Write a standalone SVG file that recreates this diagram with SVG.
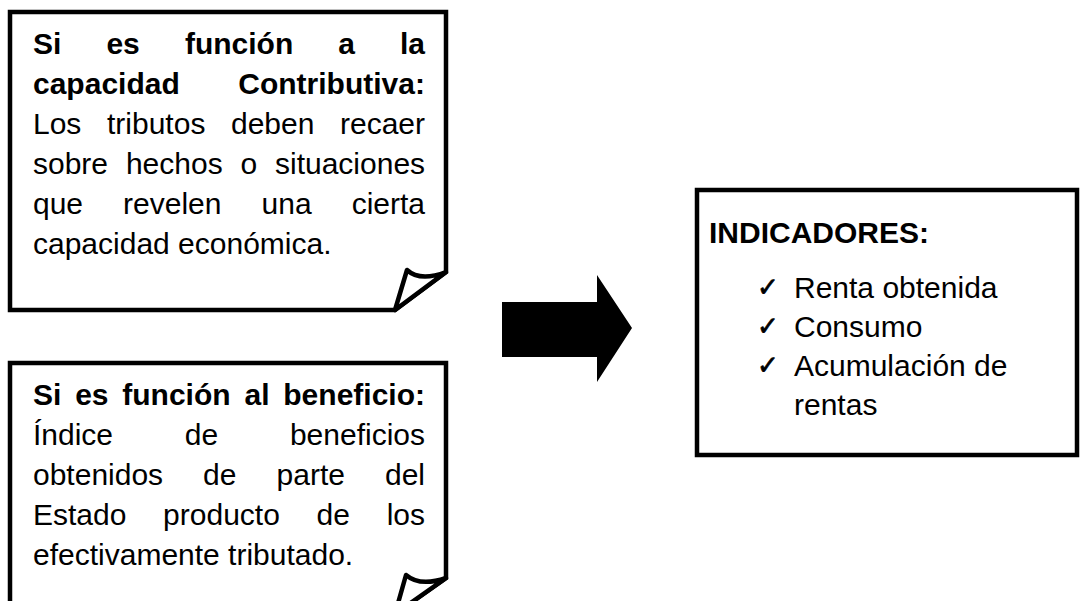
<svg xmlns="http://www.w3.org/2000/svg" width="1080" height="601" viewBox="0 0 1080 601">
<style>
.box{fill:#fff;stroke:#000;stroke-width:4.5;stroke-linejoin:miter}
.curl{fill:#fff;stroke:#000;stroke-width:4.5;stroke-linejoin:round}
text{font-family:"Liberation Sans",Arial,sans-serif;font-size:30px;fill:#000}
.b{font-weight:bold}
.chk{font-family:"DejaVu Sans",sans-serif;font-size:26px;stroke:#000;stroke-width:0.8}
</style>
<rect width="1080" height="601" fill="#fff"/>
<g id="node-capacidad">
<path class="box" d="M10,12 H446 V272 L395,310 H10 Z"/>
<path class="curl" d="M446,272 L395,310 L407,270 Q420,282 446,272 Z"/>
<text class="b" y="54"><tspan x="33">Si</tspan><tspan x="106.4">es</tspan><tspan x="184.9">función</tspan><tspan x="338.3">a</tspan><tspan x="400">la</tspan></text>
<text class="b" y="94"><tspan x="33">capacidad</tspan><tspan x="238.3">Contributiva:</tspan></text>
<text y="134"><tspan x="33">Los</tspan><tspan x="107">tributos</tspan><tspan x="231">deben</tspan><tspan x="340">recaer</tspan></text>
<text y="174"><tspan x="33">sobre</tspan><tspan x="125.9">hechos</tspan><tspan x="240.4">o</tspan><tspan x="275">situaciones</tspan></text>
<text y="214"><tspan x="33">que</tspan><tspan x="123.1">revelen</tspan><tspan x="261.6">una</tspan><tspan x="351.7">cierta</tspan></text>
<text x="33" y="254">capacidad económica.</text>
</g>
<g id="node-beneficio">
<path class="box" d="M10,363 H446 V578 L395,614 H10 Z"/>
<path class="curl" d="M446,578 L395,614 L406,575 Q420,587 446,578 Z"/>
<text class="b" y="405"><tspan x="33">Si</tspan><tspan x="75.2">es</tspan><tspan x="122.3">función</tspan><tspan x="244.5">al</tspan><tspan x="283.3">beneficio:</tspan></text>
<text y="445"><tspan x="33">Índice</tspan><tspan x="184.8">de</tspan><tspan x="289.9">beneficios</tspan></text>
<text y="485"><tspan x="33">obtenidos</tspan><tspan x="203.1">de</tspan><tspan x="276.6">parte</tspan><tspan x="385">del</tspan></text>
<text y="525"><tspan x="33">Estado</tspan><tspan x="163.1">producto</tspan><tspan x="316.6">de</tspan><tspan x="386.7">los</tspan></text>
<text x="33" y="565">efectivamente tributado.</text>
</g>
<g id="connectors">
<polygon points="502,302 597,302 597,275 632,328 597,382 597,357 502,357" fill="#000"/>
</g>
<g id="node-indicadores">
<rect class="box" x="697" y="190" width="380" height="265"/>
<text class="b" x="709" y="243">INDICADORES:</text>
<text class="chk" x="757" y="296">✓</text>
<text x="794" y="298">Renta obtenida</text>
<text class="chk" x="757" y="335">✓</text>
<text x="794" y="337">Consumo</text>
<text class="chk" x="757" y="374">✓</text>
<text x="794" y="376">Acumulación de</text>
<text x="794" y="415">rentas</text>
</g>
</svg>
